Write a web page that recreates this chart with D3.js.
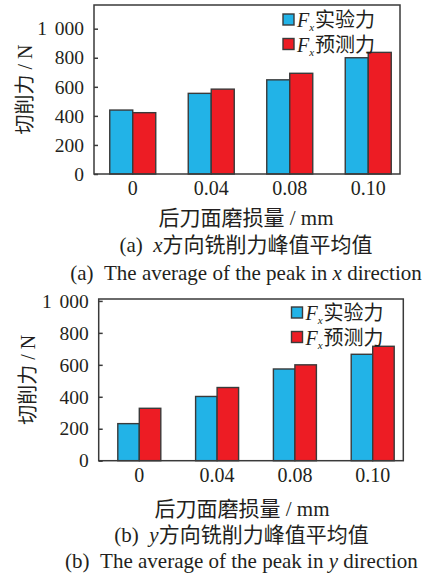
<!DOCTYPE html>
<html>
<head>
<meta charset="utf-8">
<script src="https://cdn.jsdelivr.net/npm/d3@7"></script>
<style>
body { margin: 0; background: #fff; }
text { font-family: "Liberation Serif", "Noto Sans CJK SC", serif; fill: #231f20; }
</style>
</head>
<body>
<div id="chart"></div>
<script>
var categories = ['0', '0.04', '0.08', '0.10']
var seriesNames = ['实验力', '预测力']
var xExperiment = [440, 555, 648, 800]
var xPredicted = [422, 584, 693, 837]
var yExperiment = [232, 402, 574, 666]
var yPredicted = [328, 458, 600, 716]
var yTicks = [0, 200, 400, 600, 800, 1000]
var colors = ['#22b3e7', '#ed1c24']

var w = 429
var h = 579

var svg = d3.select('#chart')
	.append('svg')
	.attr('width', w)
	.attr('height', h)

var panels = [
	{
		values: [xExperiment, xPredicted],
		left: 94, right: 400, top: 5, bottom: 174, yMax: 1163,
		bandStart: 93.5, bandEnd: 407.5, inner: 46,
		yLabelX: 25, tickY: 195,
		legendX: 283, legendY: 14,
		titleX: 246, titleY: 224.5,
		capX: 246, capCn: 251.5, capEn: 280,
		cnLetter: '(a)', dirLetter: 'x'
	},
	{
		values: [yExperiment, yPredicted],
		left: 98.7, right: 403.3, top: 299, bottom: 460.7, yMax: 1012,
		bandStart: 100.4, bandEnd: 411.6, inner: 43,
		yLabelX: 28, tickY: 481.5,
		legendX: 291.5, legendY: 307,
		titleX: 242, titleY: 515.5,
		capX: 241.5, capCn: 541.5, capEn: 568,
		cnLetter: '(b)', dirLetter: 'y'
	}
]

// 1000 -> "1 000", gap a bit wider than a normal space
var fmt = (d) => d >= 1000 ? d3.format(',')(d).replace(',', '\u2009\u2009') : String(d)

panels.forEach(function(p) {
	var g = svg.append('g')

	var yScale = d3.scaleLinear()
		.domain([0, p.yMax])
		.range([p.bottom, p.top])

	var step = (p.bandEnd - p.bandStart) / categories.length
	var pad = 1 - p.inner / step
	var x0 = d3.scaleBand()
		.domain(categories)
		.range([p.bandStart, p.bandEnd])
		.paddingInner(pad)
		.paddingOuter(pad / 2)

	var x1 = d3.scaleBand()
		.domain([0, 1])
		.range([0, x0.bandwidth()])

	// bars
	var groups = g.selectAll('g.grp')
		.data(categories)
		.enter()
		.append('g')
		.attr('transform', (d) => 'translate(' + x0(d) + ',0)')

	groups.selectAll('rect')
		.data((d, i) => [0, 1].map((s) => ({ s: s, v: p.values[s][i] })))
		.enter()
		.append('rect')
		.attr('x', (d) => x1(d.s))
		.attr('width', x1.bandwidth())
		.attr('y', (d) => yScale(d.v))
		.attr('height', (d) => yScale(0) - yScale(d.v))
		.attr('fill', (d) => colors[d.s])
		.attr('stroke', '#3a3a3a')
		.attr('stroke-width', 1.4)

	// frame
	g.append('rect')
		.attr('x', p.left)
		.attr('y', p.top)
		.attr('width', p.right - p.left)
		.attr('height', p.bottom - p.top)
		.attr('fill', 'none')
		.attr('stroke', '#3a3a3a')
		.attr('stroke-width', 1.5)

	// y axis, inward ticks
	var yAxis = d3.axisLeft(yScale)
		.tickValues(yTicks)
		.tickSize(-4)
		.tickPadding(10)
		.tickFormat(fmt)

	var ya = g.append('g')
		.attr('transform', 'translate(' + p.left + ',0)')
		.call(yAxis)
	ya.select('.domain').remove()
	ya.selectAll('line').attr('stroke', '#3a3a3a').attr('stroke-width', 1.5)
	ya.selectAll('text')
		.attr('font-size', 19.5)
		.attr('font-family', null)
		.attr('fill', '#231f20')

	// x tick labels
	g.selectAll('text.xt')
		.data(categories)
		.enter()
		.append('text')
		.attr('x', (d) => x0(d) + x0.bandwidth() / 2)
		.attr('y', p.tickY)
		.attr('text-anchor', 'middle')
		.attr('font-size', 20)
		.text((d) => d)

	// y label
	g.append('text')
		.attr('transform', 'translate(' + p.yLabelX + ',' + ((p.top + p.bottom) / 2) + ') rotate(-90)')
		.attr('text-anchor', 'middle')
		.attr('dy', '0.35em')
		.attr('font-size', 20)
		.text('切削力 / N')

	// legend
	seriesNames.forEach(function(name, i) {
		var ly = p.legendY + i * 24.5
		g.append('rect')
			.attr('x', p.legendX)
			.attr('y', ly)
			.attr('width', 11)
			.attr('height', 11)
			.attr('fill', colors[i])
			.attr('stroke', '#3a3a3a')
			.attr('stroke-width', 1.4)
		var t = g.append('text')
			.attr('x', p.legendX + 14)
			.attr('y', ly + 13)
			.attr('font-size', 20)
		t.append('tspan').attr('font-style', 'italic').text('F')
		t.append('tspan').attr('font-style', 'italic').attr('font-size', 11).attr('dy', 4).text('x')
		t.append('tspan').attr('dy', -4).attr('dx', 1).text(name)
	})

	// x title
	g.append('text')
		.attr('x', p.titleX)
		.attr('y', p.titleY)
		.attr('text-anchor', 'middle')
		.attr('font-size', 21)
		.text('后刀面磨损量 / mm')

	// captions
	var cn = g.append('text')
		.attr('x', p.capX)
		.attr('y', p.capCn)
		.attr('text-anchor', 'middle')
		.attr('font-size', 21)
	cn.append('tspan').text(p.cnLetter + '\u00a0\u00a0')
	cn.append('tspan').attr('font-style', 'italic').text(p.dirLetter)
	cn.append('tspan').text('方向铣削力峰值平均值')

	var en = g.append('text')
		.attr('x', p.capX)
		.attr('y', p.capEn)
		.attr('text-anchor', 'middle')
		.attr('font-size', 21)
	en.append('tspan').text(p.cnLetter + '\u00a0\u00a0The average of the peak in ')
	en.append('tspan').attr('font-style', 'italic').text(p.dirLetter)
	en.append('tspan').text(' direction')
})
</script>
</body>
</html>
